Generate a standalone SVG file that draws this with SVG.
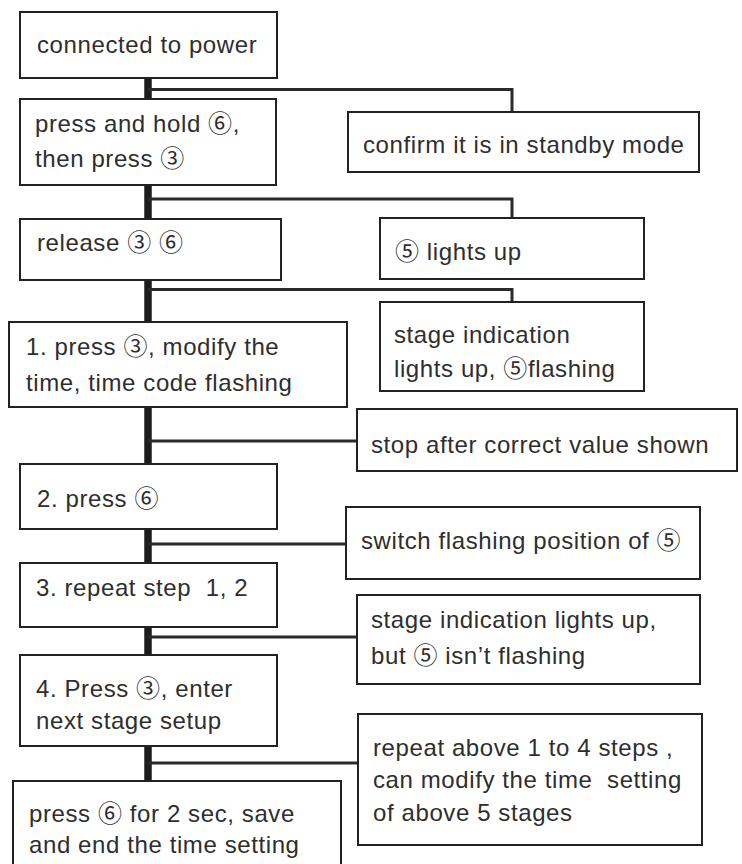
<svg xmlns="http://www.w3.org/2000/svg" width="742" height="864" viewBox="0 0 742 864">
<style>
.box{fill:#fff;stroke:#222;stroke-width:2}
.trunk{fill:none;stroke:#1c1c1c;stroke-width:7.5}
.br{fill:none;stroke:#2a2a2a;stroke-width:3}
text{font-family:"Liberation Sans","Noto Sans CJK SC",sans-serif;font-size:24px;fill:#2e2e2e;letter-spacing:0.6px;white-space:pre}
</style>
<rect width="742" height="864" fill="#fff"/>
<g id="connectors">
<line class="trunk" x1="148" y1="78" x2="148" y2="782"/>
<polyline class="br" points="148,89.5 512,89.5 512,112"/>
<polyline class="br" points="148,199 512,199 512,218"/>
<polyline class="br" points="148,289.5 512,289.5 512,302"/>
<line class="br" x1="148" y1="441" x2="357" y2="441"/>
<line class="br" x1="148" y1="544" x2="346" y2="544"/>
<line class="br" x1="148" y1="637" x2="357" y2="637"/>
<line class="br" x1="148" y1="763" x2="358" y2="763"/>
</g>
<g id="n1"><rect class="box" x="20" y="12" width="257" height="66"/><text x="37" y="53">connected to power</text></g>
<g id="n2"><rect class="box" x="20" y="99" width="256" height="86"/><text x="35" y="132">press and hold ⑥,</text><text x="35" y="167">then press ③</text></g>
<g id="n3"><rect class="box" x="348" y="112" width="351" height="60"/><text x="363" y="153">confirm it is in standby mode</text></g>
<g id="n4"><rect class="box" x="20" y="219" width="261" height="61"/><text x="37" y="251">release ③ ⑥</text></g>
<g id="n5"><rect class="box" x="380" y="218" width="264" height="61"/><text x="395" y="260">⑤ lights up</text></g>
<g id="n6"><rect class="box" x="9" y="322" width="338" height="85"/><text x="26" y="355">1. press ③, modify the</text><text x="26" y="391">time, time code flashing</text></g>
<g id="n7"><rect class="box" x="380" y="302" width="264" height="89"/><text x="394" y="343">stage indication</text><text x="394" y="377">lights up, ⑤flashing</text></g>
<g id="n8"><rect class="box" x="357" y="409" width="380" height="62"/><text x="371" y="453">stop after correct value shown</text></g>
<g id="n9"><rect class="box" x="20" y="464" width="257" height="65"/><text x="37" y="507">2. press ⑥</text></g>
<g id="n10"><rect class="box" x="346" y="507" width="354" height="72"/><text x="361" y="549">switch flashing position of ⑤</text></g>
<g id="n11"><rect class="box" x="20" y="563" width="257" height="64"/><text x="36" y="596" xml:space="preserve">3. repeat step  1, 2</text></g>
<g id="n12"><rect class="box" x="357" y="595" width="343" height="89"/><text x="371" y="628">stage indication lights up,</text><text x="371" y="664">but ⑤ isn’t flashing</text></g>
<g id="n13"><rect class="box" x="20" y="655" width="257" height="91"/><text x="36" y="697">4. Press ③, enter</text><text x="36" y="729">next stage setup</text></g>
<g id="n14"><rect class="box" x="358" y="714" width="344" height="131"/><text x="373" y="756">repeat above 1 to 4 steps ,</text><text x="373" y="788" xml:space="preserve">can modify the time  setting</text><text x="373" y="821">of above 5 stages</text></g>
<g id="n15"><rect class="box" x="13" y="781" width="328" height="100"/><text x="29" y="822">press ⑥ for 2 sec, save</text><text x="29" y="853">and end the time setting</text></g>
</svg>
